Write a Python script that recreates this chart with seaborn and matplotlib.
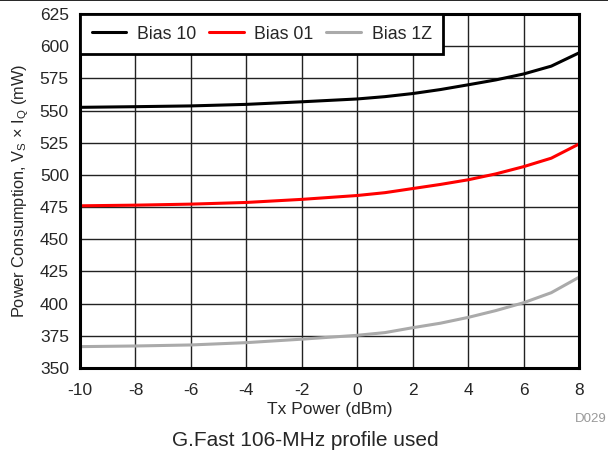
import matplotlib
matplotlib.use("Agg")
import matplotlib.pyplot as plt
import seaborn as sns
import pandas as pd

# Tx power sweep (dBm) and supply power for each bias setting (mW)
tx_power = [-10, -8, -6, -4, -2, 0, 1, 2, 3, 4, 5, 6, 7, 8]
bias_10 = [552.5, 553.0, 553.6, 554.8, 556.8, 559.0, 560.8, 563.2, 566.3, 570.0, 573.8, 578.4, 584.5, 594.8]
bias_01 = [476.0, 476.5, 477.3, 478.6, 481.0, 484.0, 486.2, 489.4, 492.6, 496.2, 500.8, 506.4, 513.0, 524.0]
bias_1z = [366.6, 367.1, 367.9, 369.7, 372.4, 375.4, 377.5, 381.3, 384.8, 389.3, 394.6, 400.7, 408.5, 420.5]
series_names = ["Bias 10", "Bias 01", "Bias 1Z"]
series_colors = ["#000000", "#ff0000", "#aaaaaa"]
x_ticks = list(range(-10, 9, 2))
y_ticks = list(range(350, 626, 25))

df = pd.concat([
    pd.DataFrame({"tx": tx_power, "pwr": vals, "bias": name})
    for name, vals in zip(series_names, [bias_10, bias_01, bias_1z])
])

sns.set_style("white")
plt.rcParams["font.family"] = ["Liberation Sans", "DejaVu Sans"]
plt.rcParams["axes.unicode_minus"] = False
plt.rcParams["mathtext.fontset"] = "custom"
plt.rcParams["mathtext.rm"] = "Liberation Sans"
plt.rcParams["mathtext.it"] = "Liberation Sans"

fig = plt.figure(figsize=(6.08, 4.53), dpi=100)
ax = fig.add_axes([80 / 608, 1 - 368 / 453, (579 - 80) / 608, (368 - 14) / 453])

sns.lineplot(data=df, x="tx", y="pwr", hue="bias", hue_order=series_names,
             palette=series_colors, linewidth=2.2, ax=ax, legend=True)

ax.set_xlim(-10, 8)
ax.set_ylim(350, 625)
ax.set_xticks(x_ticks)
ax.set_yticks(y_ticks)
ax.tick_params(axis="both", labelsize=12.5, length=0)
ax.tick_params(axis="x", pad=11)
ax.tick_params(axis="y", pad=8)
ax.grid(True, color="#222222", linewidth=1.0)
ax.set_axisbelow(True)
for s in ax.spines.values():
    s.set_color("black")
    s.set_linewidth(2.2)

ax.set_xlabel("Tx Power (dBm)", fontsize=12.5, labelpad=3)
ax.set_ylabel("Power Consumption, V$_\\mathrm{S}$ × I$_\\mathrm{Q}$ (mW)", fontsize=11.8, labelpad=6)

leg = ax.legend(loc="upper left", ncol=3, fontsize=12.8, frameon=True, fancybox=False,
                borderaxespad=0, handlelength=1.95, columnspacing=0.72, handletextpad=0.6,
                borderpad=0.65)
leg.get_frame().set_edgecolor("black")
leg.get_frame().set_linewidth(2.0)
leg.get_frame().set_alpha(1)
for line in leg.get_lines():
    line.set_linewidth(2.2)

fig.text(607 / 608, 1 - 419 / 453, "D029", fontsize=9.5, color="#999999", ha="right", va="center")
fig.text(305 / 608, 1 - 440 / 453, "G.Fast 106-MHz profile used", fontsize=15, ha="center", va="center")
fig.add_artist(plt.Line2D([0, 1], [0.999, 0.999], color="black", linewidth=1.2, transform=fig.transFigure))

fig.savefig("out.png", dpi=100)
